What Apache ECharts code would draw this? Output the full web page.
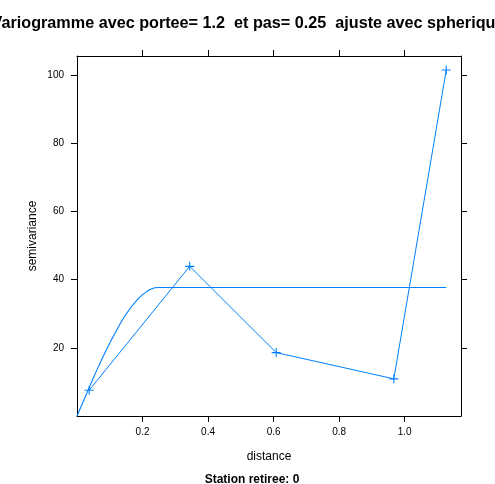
<!DOCTYPE html>
<html>
<head>
<meta charset="utf-8">
<script src="https://cdn.jsdelivr.net/npm/echarts@6/dist/echarts.min.js"></script>
<style>html,body{margin:0;padding:0;background:#fff}#c{width:495px;height:484px}</style>
</head>
<body>
<div id="c"></div>
<script>
// Empirical variogram points
var distances = [0.037, 0.344, 0.608, 0.967, 1.127];
var semivar = [7.55, 43.9, 18.6, 10.9, 101.5];
// Fitted spherical model
var fitDist = [0, 0.0125, 0.025, 0.0375, 0.05, 0.0625, 0.075, 0.0875, 0.1, 0.1125, 0.125, 0.1375, 0.15, 0.1625, 0.175, 0.1875, 0.2, 0.2125, 0.225, 0.2375, 0.25, 1.127];
var fitVal = [0, 2.8, 5.6, 8.4, 11.2, 13.9, 16.5, 19.0, 21.4, 23.7, 25.9, 28.0, 29.9, 31.6, 33.1, 34.5, 35.6, 36.5, 37.2, 37.6, 37.7, 37.7];
var xTicks = [0.2, 0.4, 0.6, 0.8, 1.0];
var yTicks = [20, 40, 60, 80, 100];

var chart = echarts.init(document.getElementById('c'), null, {renderer: 'canvas'});
var FONT = 'Liberation Sans';
var BLUE = '#0080ff';
var plus = 'path://M4.4,0 H5.6 V4.4 H10 V5.6 H5.6 V10 H4.4 V5.6 H0 V4.4 H4.4 Z';

function xAxisCfg(pos, labels) {
  return {
    type: 'value', position: pos, min: 0, max: 1.172,
    axisLine: {show: true, onZero: false, lineStyle: {color: '#000', width: 1}},
    axisTick: {show: true, inside: false, length: 6, customValues: xTicks, lineStyle: {color: '#000'}},
    axisLabel: {show: labels, customValues: xTicks, margin: 11, color: '#000', fontSize: 10, fontFamily: FONT,
      formatter: function (v) { return v.toFixed(1); }},
    splitLine: {show: false}
  };
}
function yAxisCfg(pos, labels) {
  return {
    type: 'value', position: pos, min: 0, max: 105.6,
    axisLine: {show: true, onZero: false, lineStyle: {color: '#000', width: 1}},
    axisTick: {show: true, inside: false, length: 6, customValues: yTicks, lineStyle: {color: '#000'}},
    axisLabel: {show: labels, customValues: yTicks, margin: 13, color: '#000', fontSize: 10, fontFamily: FONT},
    splitLine: {show: false}
  };
}

var fitData = fitDist.map(function (d, i) { return [d, fitVal[i]]; });
var ptData = distances.map(function (d, i) { return [d, semivar[i]]; });

chart.setOption({
  animation: false,
  backgroundColor: '#fff',
  grid: {left: 77, top: 56, right: 34, bottom: 68, containLabel: false},
  title: [
    {text: 'Variogramme avec portee= 1.2  et pas= 0.25  ajuste avec spherique', left: 248, top: 16, textAlign: 'center', padding: 0,
      textStyle: {fontFamily: FONT, fontWeight: 'bold', fontSize: 16.2, color: '#000'}},
    {text: 'distance', left: 269, top: 451, textAlign: 'center', padding: 0,
      textStyle: {fontFamily: FONT, fontWeight: 'normal', fontSize: 12, color: '#000'}},
    {text: 'Station retiree: 0', left: 252, top: 474, textAlign: 'center', padding: 0,
      textStyle: {fontFamily: FONT, fontWeight: 'bold', fontSize: 12, color: '#000'}}
  ],
  graphic: [{
    type: 'text', x: 33, y: 236, rotation: Math.PI / 2,
    style: {text: 'semivariance', font: '12px "Liberation Sans"', fill: '#000', align: 'center', verticalAlign: 'middle'}
  }],
  xAxis: [xAxisCfg('bottom', true), xAxisCfg('top', false)],
  yAxis: [yAxisCfg('left', true), yAxisCfg('right', false)],
  series: [
    {type: 'line', data: fitData, showSymbol: false, smooth: false,
      lineStyle: {color: BLUE, width: 1.1}, xAxisIndex: 0, yAxisIndex: 0, silent: true},
    {type: 'line', data: ptData, symbol: plus, symbolSize: 9,
      itemStyle: {color: BLUE, borderWidth: 0}, lineStyle: {color: BLUE, width: 1},
      xAxisIndex: 0, yAxisIndex: 0, silent: true}
  ]
});
</script>
</body>
</html>
